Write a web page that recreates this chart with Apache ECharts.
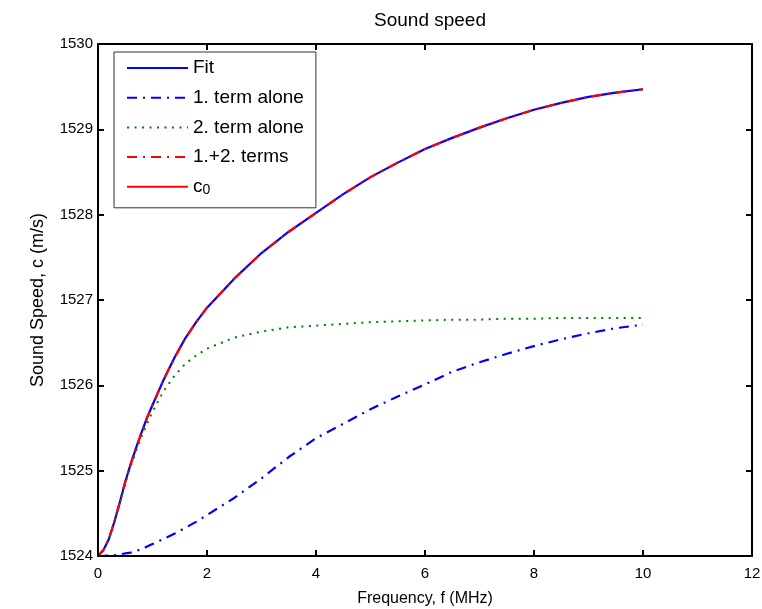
<!DOCTYPE html>
<html>
<head>
<meta charset="utf-8">
<script src="https://cdn.jsdelivr.net/npm/echarts@6/dist/echarts.min.js"></script>
<style>html,body{margin:0;padding:0;background:#fff;}#c{width:762px;height:609px;}</style>
</head>
<body>
<div id="c"></div>
<script>
// Frequency (MHz)
const freq = [0,0.1,0.2,0.3,0.4,0.5,0.6,0.7,0.8,0.9,1.0,1.2,1.4,1.6,1.8,2.0,2.5,3.0,3.5,4.0,4.5,5.0,5.5,6.0,6.5,7.0,7.5,8.0,8.5,9.0,9.5,10.0];
// Fit
const fitValues = [1524.00,1524.07,1524.20,1524.40,1524.63,1524.87,1525.08,1525.27,1525.45,1525.62,1525.77,1526.06,1526.32,1526.55,1526.74,1526.91,1527.25,1527.55,1527.80,1528.02,1528.24,1528.44,1528.61,1528.77,1528.90,1529.02,1529.13,1529.23,1529.31,1529.38,1529.43,1529.47];
// 1. term alone
const term1Values = [1524.00,1524.00,1524.01,1524.01,1524.02,1524.03,1524.04,1524.06,1524.08,1524.11,1524.14,1524.20,1524.26,1524.33,1524.40,1524.48,1524.68,1524.91,1525.16,1525.38,1525.55,1525.72,1525.87,1526.01,1526.16,1526.27,1526.37,1526.46,1526.54,1526.61,1526.67,1526.71];
// 2. term alone
const term2Values = [1524.00,1524.07,1524.20,1524.40,1524.62,1524.85,1525.05,1525.23,1525.40,1525.55,1525.69,1525.93,1526.11,1526.25,1526.35,1526.43,1526.56,1526.63,1526.68,1526.70,1526.72,1526.74,1526.75,1526.76,1526.77,1526.77,1526.78,1526.78,1526.79,1526.79,1526.79,1526.79];
// 1.+2. terms
const bothValues = [1524.00,1524.07,1524.20,1524.40,1524.63,1524.87,1525.08,1525.27,1525.45,1525.62,1525.77,1526.06,1526.32,1526.55,1526.74,1526.91,1527.25,1527.55,1527.80,1528.02,1528.24,1528.44,1528.61,1528.77,1528.90,1529.02,1529.13,1529.23,1529.31,1529.38,1529.43,1529.47];
// c0
const c0Freq = [0, 10];
const c0Values = [1524, 1524];

const seriesNames = ['Fit', '1. term alone', '2. term alone', '1.+2. terms', 'c0'];
const xTicks = [0, 12, 2];
const yTicks = [1524, 1530, 1];

function pairs(xs, ys) { return xs.map((x, i) => [x, ys[i]]); }

const FONT = 'Liberation Sans, Arial, sans-serif';
const chart = echarts.init(document.getElementById('c'), null, {renderer: 'canvas'});

const axisCommon = {
  axisLine: {show: true, onZero: false, lineStyle: {color: '#000', width: 2}},
  axisTick: {show: true, inside: true, length: 6, lineStyle: {color: '#000', width: 2}},
  splitLine: {show: false},
  z: 5
};

chart.setOption({
  animation: false,
  backgroundColor: '#fff',
  title: {
    text: 'Sound speed',
    left: 425, top: 6, textAlign: 'center',
    textStyle: {fontFamily: FONT, fontSize: 19, fontWeight: 'normal', color: '#000'}
  },
  grid: {left: 98, right: 10, top: 44, bottom: 53, containLabel: false, outerBoundsMode: 'none'},
  xAxis: [
    Object.assign({
      type: 'value', min: xTicks[0], max: xTicks[1], interval: xTicks[2], position: 'bottom',
      name: 'Frequency, f (MHz)', nameLocation: 'middle', nameGap: 35,
      nameTextStyle: {fontFamily: FONT, fontSize: 16, color: '#000'},
      axisLabel: {fontFamily: FONT, fontSize: 15, color: '#000', margin: 10}
    }, axisCommon),
    Object.assign({
      type: 'value', min: xTicks[0], max: xTicks[1], interval: xTicks[2], position: 'top',
      axisLabel: {show: false}
    }, axisCommon)
  ],
  yAxis: [
    Object.assign({
      type: 'value', min: yTicks[0], max: yTicks[1], interval: yTicks[2], position: 'left',
      name: 'Sound Speed, c (m/s)', nameLocation: 'middle', nameGap: 51,
      nameTextStyle: {fontFamily: FONT, fontSize: 18, color: '#000'},
      axisLabel: {fontFamily: FONT, fontSize: 15, color: '#000', margin: 5,
        formatter: function (v) { return String(v); }}
    }, axisCommon),
    Object.assign({
      type: 'value', min: yTicks[0], max: yTicks[1], interval: yTicks[2], position: 'right',
      axisLabel: {show: false}
    }, axisCommon)
  ],
  legend: {
    orient: 'vertical', left: 114, top: 52,
    data: seriesNames,
    itemWidth: 61, itemHeight: 14, itemGap: 9.7,
    padding: [6, 12, 11, 12],
    backgroundColor: '#fff', borderColor: '#333', borderWidth: 1,
    itemStyle: {opacity: 0},
    textStyle: {
      fontFamily: FONT, fontSize: 19, color: '#000', lineHeight: 20,
      rich: {
        b: {fontFamily: FONT, fontSize: 19, color: '#000', lineHeight: 20},
        s: {fontFamily: FONT, fontSize: 14, color: '#000', verticalAlign: 'bottom', lineHeight: 10}
      }
    },
    formatter: function (n) { return n === 'c0' ? '{b|c}{s|0}' : n; }
  },
  series: [
    {name: seriesNames[0], type: 'line', data: pairs(freq, fitValues), symbol: 'none', z: 2,
      lineStyle: {color: '#0000ff', width: 2.2, type: 'solid'}, itemStyle: {color: '#0000ff'}},
    {name: seriesNames[1], type: 'line', data: pairs(freq, term1Values), symbol: 'none', z: 2,
      lineStyle: {color: '#0000ff', width: 2.2, type: [10, 6, 2, 6]}, itemStyle: {color: '#0000ff'}},
    {name: seriesNames[2], type: 'line', data: pairs(freq, term2Values), symbol: 'none', z: 2,
      lineStyle: {color: '#008000', width: 2, type: [2, 5.5]}, itemStyle: {color: '#008000'}},
    {name: seriesNames[3], type: 'line', data: pairs(freq, bothValues), symbol: 'none', z: 3,
      lineStyle: {color: '#ff0000', width: 2.2, type: [10, 6, 2, 6]}, itemStyle: {color: '#ff0000'}},
    {name: seriesNames[4], type: 'line', data: pairs(c0Freq, c0Values), symbol: 'none', z: 1,
      lineStyle: {color: '#ff0000', width: 2, type: 'solid'}, itemStyle: {color: '#ff0000'}}
  ]
});
</script>
</body>
</html>
